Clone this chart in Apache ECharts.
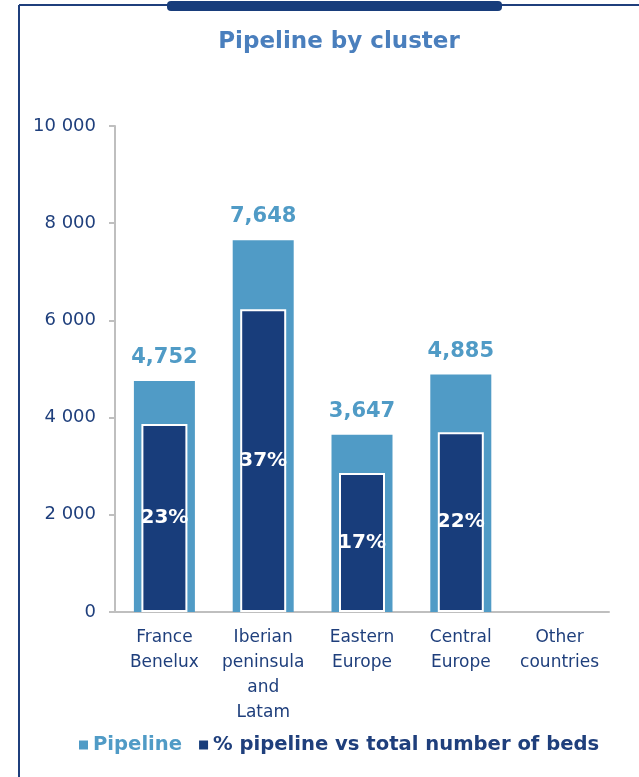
<!DOCTYPE html>
<html><head><meta charset="utf-8">
<script src="https://cdn.jsdelivr.net/npm/echarts@6/dist/echarts.min.js"></script>
<style>html,body{margin:0;padding:0;background:#fff}#c{width:639px;height:777px}</style>
</head><body><div id="c"></div>
<script>
const categories = ['France\nBenelux', 'Iberian\npeninsula\nand\nLatam', 'Eastern\nEurope', 'Central\nEurope', 'Other\ncountries'];
const pipeline = [4752, 7648, 3647, 4885, null];
const pipelineShare = [3870, 6230, 2860, 3700, null];
const shareLabels = ['23%', '37%', '17%', '22%', ''];
const yTicks = [0, 2000, 4000, 6000, 8000, 10000];

const LIGHT = '#509bc6', DARK = '#183d7b', NAVY = '#1f3f7c';
const FONT = 'DejaVu Sans';
const chart = echarts.init(document.getElementById('c'));
chart.setOption({
  animation: false,
  textStyle: { fontFamily: FONT },
  title: { text: 'Pipeline by cluster', left: 334, textAlign: 'center', top: 26,
    textStyle: { color: '#4a7fbd', fontSize: 23, fontWeight: 'bold', fontFamily: FONT } },
  graphic: [
    { type: 'line', shape: { x1: 19, y1: 5, x2: 19, y2: 777 }, style: { stroke: NAVY, lineWidth: 2 } },
    { type: 'line', shape: { x1: 19, y1: 5, x2: 639, y2: 5 }, style: { stroke: NAVY, lineWidth: 2 } },
    { type: 'rect', shape: { x: 167, y: 1, width: 335, height: 10, r: 4 }, style: { fill: DARK } }
  ],
  legend: { left: 74, top: 730, itemWidth: 9, itemHeight: 9, itemGap: 17, icon: 'rect',
    itemStyle: { borderWidth: 0 },
    textStyle: { fontSize: 19.6, fontWeight: 'bold', fontFamily: FONT },
    data: [{ name: 'Pipeline', textStyle: { color: LIGHT } },
           { name: '% pipeline vs total number of beds', textStyle: { color: NAVY } }] },
  grid: { left: 115, right: 30, top: 126, bottom: 165 },
  xAxis: [
    { type: 'category', data: categories,
      axisLine: { lineStyle: { color: '#bfbfbf', width: 2 } },
      axisTick: { length: 6, lineStyle: { color: '#bfbfbf', width: 2 } },
      axisLabel: { color: NAVY, fontSize: 17, lineHeight: 25, margin: 13, interval: 0, fontFamily: FONT } },
    { type: 'category', data: categories, show: false }
  ],
  yAxis: { type: 'value', min: 0, max: 10000, interval: 2000,
    splitLine: { show: false },
    axisLine: { show: true, lineStyle: { color: '#bfbfbf', width: 2 } },
    axisTick: { show: true, length: 6, lineStyle: { color: '#bfbfbf', width: 2 } },
    axisLabel: { color: NAVY, fontSize: 18, margin: 19, fontFamily: FONT,
      formatter: v => yTicks.includes(v) ? String(v).replace(/\B(?=(\d{3})+(?!\d))/g, ' ') : '' } },
  series: [
    { name: 'Pipeline', type: 'bar', data: pipeline, xAxisIndex: 0, barWidth: 61,
      itemStyle: { color: LIGHT },
      label: { show: true, position: 'top', distance: 13, color: LIGHT, fontSize: 21, fontWeight: 'bold', fontFamily: FONT,
        formatter: p => p.value == null ? '' : p.value.toLocaleString('en-US') } },
    { name: '% pipeline vs total number of beds', type: 'bar', data: pipelineShare, xAxisIndex: 1, barWidth: 46,
      itemStyle: { color: DARK, borderColor: '#fff', borderWidth: 2 },
      label: { show: true, position: 'inside', color: '#fff', fontSize: 20, fontWeight: 'bold', fontFamily: FONT,
        formatter: p => shareLabels[p.dataIndex] } }
  ]
});
</script></body></html>
